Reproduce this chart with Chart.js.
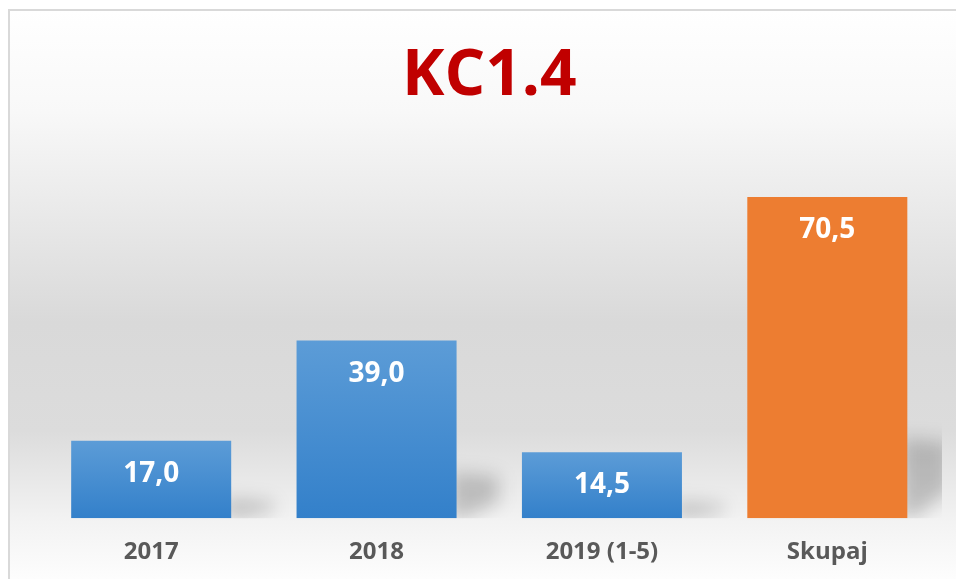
<!DOCTYPE html>
<html>
<head>
<meta charset="utf-8">
<script src="https://cdn.jsdelivr.net/npm/chart.js@4.4.0/dist/chart.umd.min.js"></script>
<style>
  html, body { margin: 0; padding: 0; background: #ffffff; }
  #wrap { width: 956px; height: 579px; position: relative; }
</style>
</head>
<body>
<div id="wrap"><canvas id="c" width="956" height="579"></canvas></div>
<script>
const categories = ['2017', '2018', '2019 (1-5)', 'Skupaj'];
const values = [17.0, 39.0, 14.5, 70.5];
const valueLabels = ['17,0', '39,0', '14,5', '70,5'];
const chartTitle = 'KC1.4';

const FONT = "'Open Sans', 'DejaVu Sans', sans-serif";

const backgroundPlugin = {
  id: 'bgPanel',
  beforeDraw(chart) {
    const ctx = chart.ctx;
    const W = chart.width, H = chart.height;
    ctx.save();
    ctx.fillStyle = '#ffffff';
    ctx.fillRect(0, 0, W, H);
    const g = ctx.createLinearGradient(0, 10, 0, H);
    g.addColorStop(0.0, '#ffffff');
    g.addColorStop(0.18, '#f8f8f8');
    g.addColorStop(0.55, '#d9d9d9');
    g.addColorStop(0.74, '#dcdcdc');
    g.addColorStop(0.9, '#f3f3f3');
    g.addColorStop(1.0, '#fdfdfd');
    ctx.fillStyle = g;
    ctx.fillRect(9, 10, W - 9, H - 10);
    ctx.strokeStyle = '#d9d9d9';
    ctx.lineWidth = 2;
    ctx.beginPath();
    ctx.moveTo(9, H + 2);
    ctx.lineTo(9, 10);
    ctx.lineTo(W + 2, 10);
    ctx.stroke();
    ctx.restore();
  }
};

const shadowPlugin = {
  id: 'barShadow',
  beforeDatasetsDraw(chart) {
    const ctx = chart.ctx;
    const meta = chart.getDatasetMeta(0);
    ctx.save();
    ctx.beginPath();
    ctx.rect(0, 0, 942, chart.chartArea.bottom);
    ctx.clip();
    meta.data.forEach((bar) => {
      const p = bar.getProps(['x', 'y', 'base', 'width'], true);
      const right = p.x + p.width / 2;
      const bottom = p.base;
      const h = bottom - p.y;
      const sh = Math.min(h * 0.26, 80);
      const sw = 42;
      ctx.save();
      ctx.filter = 'blur(9px)';
      ctx.fillStyle = 'rgba(0,0,0,0.2)';
      ctx.beginPath();
      ctx.moveTo(right - 6, bottom - sh);
      ctx.lineTo(right + sw, bottom - sh + 4);
      ctx.lineTo(right + sw, bottom - sh * 0.35);
      ctx.lineTo(right + 6, bottom);
      ctx.lineTo(right - 6, bottom);
      ctx.closePath();
      ctx.fill();
      ctx.restore();
    });
    ctx.restore();
  }
};

const labelPlugin = {
  id: 'valueLabels',
  afterDatasetsDraw(chart) {
    const ctx = chart.ctx;
    const meta = chart.getDatasetMeta(0);
    ctx.save();
    ctx.font = "bold 28px " + FONT;
    ctx.fillStyle = '#ffffff';
    ctx.textAlign = 'center';
    ctx.textBaseline = 'middle';
    meta.data.forEach((bar, i) => {
      const p = bar.getProps(['x', 'y'], true);
      ctx.fillText(valueLabels[i], p.x, p.y + 33);
    });
    ctx.restore();
  }
};

const ctx = document.getElementById('c').getContext('2d');

function barFill(context) {
  const chart = context.chart;
  const i = context.dataIndex;
  if (i === categories.length - 1) return '#ED7D31';
  const ys = chart.scales && chart.scales.y;
  if (!ys || !chart.chartArea) return '#4A8DD2';
  const top = ys.getPixelForValue(values[i]);
  const bottom = ys.getPixelForValue(0);
  if (!isFinite(top) || !isFinite(bottom) || top === bottom) return '#4A8DD2';
  const g = chart.ctx.createLinearGradient(0, top, 0, bottom);
  g.addColorStop(0, '#5C9CD7');
  g.addColorStop(1, '#3380CA');
  return g;
}

const chart = new Chart(ctx, {
  type: 'bar',
  data: {
    labels: categories,
    datasets: [{
      data: values,
      backgroundColor: barFill,
      borderWidth: 0,
      categoryPercentage: 1.0,
      barPercentage: 0.71
    }]
  },
  options: {
    responsive: false,
    animation: false,
    devicePixelRatio: 1,
    layout: { padding: { left: 38.5, right: 16, top: 0, bottom: -8 } },
    plugins: {
      legend: { display: false },
      tooltip: { enabled: false },
      title: {
        display: true,
        text: chartTitle,
        color: '#C00000',
        font: { family: FONT, size: 64, weight: 'bold', lineHeight: 1.2 },
        padding: { top: 38.5, bottom: 38.5 }
      }
    },
    scales: {
      x: {
        grid: { display: false, drawTicks: false },
        border: { display: false },
        ticks: {
          color: '#595959',
          padding: 20,
          font: { family: FONT, size: 24, weight: 'bold', lineHeight: 1.2 }
        }
      },
      y: {
        display: false,
        min: 0,
        max: 80
      }
    }
  },
  plugins: [backgroundPlugin, shadowPlugin, labelPlugin]
});
chart.update('none');
</script>
</body>
</html>
